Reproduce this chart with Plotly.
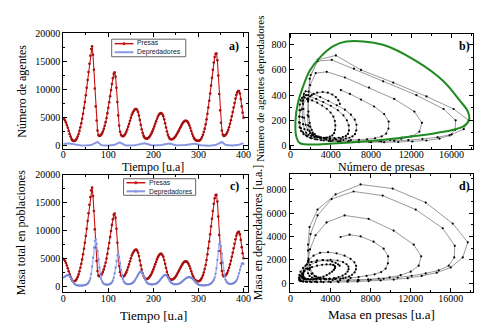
import plotly.graph_objects as go

W, H = 499, 331

# ---------------- data ----------------
t = list(range(0, 401, 2))

# prey (number of agents == prey mass), panels a, c and x of b, d
presas = [
    4900, 4750, 4500, 4150, 3700, 3200, 2650, 2100, 1650, 1250,
    1000, 880, 850, 900, 1050, 1300, 1650, 2100, 2650, 3300,
    4000, 4800, 5700, 6700, 7800, 9000, 10300, 11700, 13100, 14600,
    16000, 17200, 17700, 16200, 13500, 10200, 7000, 4500, 2700, 1900,
    1750, 1800, 1950, 2200, 2550, 3000, 3550, 4200, 4950, 5800,
    6750, 7750, 8800, 9900, 11000, 12000, 12800, 13050, 12300, 10300,
    7800, 5400, 3600, 2500, 1950, 1750, 1700, 1750, 1900, 2150,
    2500, 2900, 3400, 3900, 4450, 5000, 5500, 5850, 6150, 6400,
    6530, 6550, 6380, 6000, 5400, 4600, 3750, 2950, 2300, 1800,
    1500, 1330, 1270, 1280, 1350, 1500, 1700, 1950, 2250, 2600,
    3000, 3450, 3900, 4350, 4800, 5200, 5500, 5700, 5800, 5780,
    5600, 5250, 4700, 4000, 3250, 2550, 1950, 1550, 1300, 1180,
    1150, 1170, 1250, 1380, 1550, 1780, 2050, 2350, 2650, 2980,
    3300, 3620, 3900, 4150, 4330, 4430, 4450, 4400, 4250, 3980,
    3600, 3150, 2650, 2150, 1750, 1400, 1150, 1000, 920, 890,
    880, 920, 1030, 1250, 1550, 1950, 2450, 3050, 3800, 4700,
    5700, 6800, 8000, 9300, 10700, 12100, 13500, 14800, 15800, 16350,
    16400, 15200, 12500, 9200, 6300, 4100, 2700, 2000, 1750, 1780,
    1900, 2100, 2400, 2800, 3300, 3900, 4550, 5250, 6000, 6800,
    7600, 8400, 9050, 9500, 9730, 9750, 9300, 8300, 7000, 5900,
    5000,
]

# predator count (panel a blue, y of panel b)
depredadores_n = [
    330, 360, 385, 405, 420, 425, 420, 400, 370, 330,
    280, 230, 185, 145, 115, 90, 72, 58, 48, 40,
    35, 32, 30, 30, 31, 33, 37, 43, 52, 66,
    88, 130, 200, 290, 390, 500, 600, 715, 680, 530,
    360, 230, 150, 100, 72, 56, 47, 41, 37, 35,
    34, 35, 38, 44, 54, 72, 110, 180, 270, 370,
    460, 540, 585, 575, 480, 350, 240, 160, 115, 88,
    72, 62, 56, 53, 52, 53, 56, 62, 72, 90,
    120, 165, 205, 245, 285, 320, 355, 385, 410, 428,
    430, 410, 360, 290, 220, 165, 125, 98, 82, 72,
    66, 62, 60, 60, 62, 67, 76, 92, 120, 160,
    200, 240, 280, 315, 345, 370, 390, 400, 390, 350,
    290, 225, 170, 130, 102, 85, 75, 68, 64, 62,
    62, 64, 70, 80, 98, 125, 160, 195, 230, 262,
    292, 318, 340, 358, 372, 380, 378, 360, 325, 280,
    230, 180, 138, 105, 80, 62, 50, 42, 36, 32,
    29, 27, 26, 26, 28, 32, 40, 55, 80, 125,
    200, 290, 400, 510, 610, 680, 670, 560, 400, 270,
    180, 125, 90, 70, 58, 50, 46, 44, 44, 46,
    50, 58, 72, 95, 135, 190, 250, 310, 365, 410,
    440,
]

# predator mass (panel c blue, y of panel d)
depredadores_m = [
    1500, 1620, 1740, 1850, 1940, 1980, 1950, 1820, 1600, 1300,
    980, 700, 480, 320, 210, 150, 115, 95, 85, 82,
    85, 95, 110, 135, 175, 230, 310, 430, 620, 900,
    1350, 2200, 3500, 5100, 6900, 8100, 8450, 7600, 6300, 4800,
    3300, 2100, 1300, 850, 580, 420, 330, 280, 260, 260,
    280, 320, 390, 500, 680, 980, 1500, 2300, 3300, 4500,
    5500, 5800, 5200, 4100, 2900, 1900, 1250, 850, 620, 480,
    400, 360, 340, 340, 360, 400, 470, 570, 720, 920,
    1180, 1480, 1780, 2080, 2350, 2550, 2650, 2600, 2350, 1950,
    1500, 1100, 800, 600, 470, 390, 340, 310, 300, 300,
    310, 330, 370, 430, 520, 640, 800, 990, 1200, 1420,
    1620, 1800, 1940, 2000, 1960, 1800, 1550, 1250, 950, 720,
    560, 450, 380, 340, 320, 320, 330, 360, 410, 480,
    570, 690, 830, 980, 1130, 1270, 1390, 1490, 1560, 1600,
    1600, 1570, 1500, 1380, 1220, 1030, 830, 640, 480, 360,
    270, 210, 170, 145, 130, 125, 125, 130, 140, 160,
    190, 230, 290, 370, 480, 630, 830, 1100, 1500, 2200,
    3200, 4700, 6300, 7500, 7850, 7200, 5800, 4200, 2800, 1800,
    1150, 800, 600, 480, 420, 390, 390, 410, 450, 520,
    620, 760, 950, 1250, 1700, 2300, 2950, 3550, 4000, 4150,
    3950,
]

# green reference orbit in panel b
orbita_x = [895, 1890, 4205, 7525, 10835, 14480, 17130, 17725, 17625, 16800,
            15140, 12495, 9175, 5535, 4205, 2883, 1890, 1223, 726, 497, 567, 895]
orbita_y = [21, 8, 16, 34, 60, 99, 151, 202, 268, 358,
            514, 670, 800, 826, 787, 696, 592, 463, 333, 202, 73, 21]

tick_t = [0, 100, 200, 300, 400]
tick_p = [0, 5000, 10000, 15000, 20000]
tick_px = [0, 4000, 8000, 12000, 16000]
tick_n = [0, 200, 400, 600, 800]
tick_m = [0, 2000, 4000, 6000, 8000]

legend_names = ["Presas", "Depredadores"]

# ---------------- helpers ----------------
def px(x):
    return x / W

def py(y):
    return 1 - y / H

SERIF = "Liberation Serif"
SANS = "Liberation Sans"
RED = "#c81414"
BLUE = "#8797e2"

fig = go.Figure()

# panel a
fig.add_trace(go.Scatter(x=t, y=presas, mode="lines+markers", name=legend_names[0],
                         line=dict(color=RED, width=1.1),
                         marker=dict(color="#a80f0f", size=2.6),
                         showlegend=False, xaxis="x", yaxis="y"))
fig.add_trace(go.Scatter(x=t, y=depredadores_n, mode="lines", name=legend_names[1],
                         line=dict(color=BLUE, width=2),
                         showlegend=False, xaxis="x", yaxis="y"))
# panel b
fig.add_trace(go.Scatter(x=presas, y=depredadores_n, mode="lines+markers",
                         line=dict(color="#9a9a9a", width=1),
                         marker=dict(color="black", size=2.2),
                         showlegend=False, xaxis="x2", yaxis="y2"))
fig.add_trace(go.Scatter(x=orbita_x, y=orbita_y, mode="lines",
                         line=dict(color="#1f8a1f", width=2, shape="spline", smoothing=1.0),
                         showlegend=False, xaxis="x2", yaxis="y2"))
# panel c
fig.add_trace(go.Scatter(x=t, y=presas, mode="lines+markers", name=legend_names[0],
                         line=dict(color=RED, width=1.1),
                         marker=dict(color="#a80f0f", size=2.6),
                         showlegend=False, xaxis="x3", yaxis="y3"))
fig.add_trace(go.Scatter(x=t, y=depredadores_m, mode="lines+markers", name=legend_names[1],
                         line=dict(color="#b0baee", width=1.5),
                         marker=dict(color="#7888d8", size=2.2),
                         showlegend=False, xaxis="x3", yaxis="y3"))
# panel d
fig.add_trace(go.Scatter(x=presas, y=depredadores_m, mode="lines+markers",
                         line=dict(color="#9a9a9a", width=1),
                         marker=dict(color="black", size=2.2),
                         showlegend=False, xaxis="x4", yaxis="y4"))

def ax(domain, rng, tickvals, anchor, minor_dtick, standoff=0):
    return dict(domain=domain, range=rng, tickvals=tickvals, anchor=anchor,
                tickformat="d", ticklabelstandoff=standoff,
                showline=True, linecolor="black", linewidth=1, mirror="allticks",
                ticks="inside", ticklen=4, tickcolor="black", showgrid=False, zeroline=False,
                tickfont=dict(family=SERIF, size=10, color="black"),
                minor=dict(ticks="inside", ticklen=2, tickcolor="black", dtick=minor_dtick),
                fixedrange=True)

xa = [px(61), px(248)]
xb = [px(290), px(476)]
ytop = [py(147), py(28)]
ybot = [py(293), py(173)]

shapes = []
ann = []

def text(x, y, s, size, angle=0, family=SERIF, anchor="center", color="black"):
    ann.append(dict(x=px(x), y=py(y), xref="paper", yref="paper", text=s,
                    showarrow=False, textangle=angle, xanchor=anchor, yanchor="middle",
                    align="left", borderpad=0,
                    font=dict(family=family, size=size, color=color)))

def legend_box(x0, y0, x1, y1, red_marker_blue):
    shapes.append(dict(type="rect", xref="paper", yref="paper",
                       x0=px(x0), x1=px(x1), y0=py(y1), y1=py(y0),
                       line=dict(color="#666", width=1), fillcolor="white"))
    cols = [RED, BLUE]
    yc = (y0 + y1) / 2
    rows = [yc - 4.4, yc + 4.4]
    for i, yy in enumerate(rows):
        shapes.append(dict(type="line", xref="paper", yref="paper",
                           x0=px(x0 + 3), x1=px(x0 + 22), y0=py(yy), y1=py(yy),
                           line=dict(color=cols[i], width=1.5 if i == 0 else 2)))
        if i == 0 or red_marker_blue:
            shapes.append(dict(type="circle", xref="paper", yref="paper",
                               x0=px(x0 + 11.2), x1=px(x0 + 13.8), y0=py(yy + 1.3), y1=py(yy - 1.3),
                               line=dict(color=cols[i], width=0.5), fillcolor=cols[i]))
    text(x0 + 25, yc, "<br>".join(legend_names), 6.8, family=SANS, anchor="left", color="#222")

legend_box(110, 34, 185, 52, False)
legend_box(122, 177, 195, 194, True)

fig.update_layout(
    width=W, height=H, margin=dict(l=0, r=0, t=0, b=0),
    paper_bgcolor="white", plot_bgcolor="white", showlegend=False,
    xaxis=ax(xa, [0, 410], tick_t, "y", 50, -4),
    yaxis=ax(ytop, [-650, 20000], tick_p, "x", 2500),
    xaxis2=ax(xb, [-100, 18150], tick_px, "y2", 2000, -4),
    yaxis2=ax([py(147), py(29)], [-31, 883], tick_n, "x2", 100),
    xaxis3=ax(xa, [0, 410], tick_t, "y3", 50, -3),
    yaxis3=ax(ybot, [-1050, 20000], tick_p, "x3", 2500),
    xaxis4=ax(xb, [-100, 18250], tick_px, "y4", 2000, -3),
    yaxis4=ax([py(293), py(172)], [-750, 9360], tick_m, "x4", 1000),
)

text(19, 87, "Número de agentes", 12, -90, anchor="center")
text(152, 165, "Tiempo [u.a]", 12, anchor="center")
text(260, 85, "Número de agentes depredadores", 11, -90, anchor="center")
text(383, 165, "Número de presas", 12, anchor="center")
text(19, 232, "Masa total en poblaciones", 12, -90, anchor="center")
text(152, 317, "Tiempo [u.a]", 13, anchor="center")
text(259, 232, "Masa en depredadores [u.a.]", 12, -90, anchor="center")
text(383, 316, "Masa en presas [u.a]", 13, anchor="center")
text(234, 41, "<b>a)</b>", 12, anchor="center")
text(467, 41, "<b>b)</b>", 12, anchor="center")
text(234, 184, "<b>c)</b>", 12, anchor="center")
text(467, 184, "<b>d)</b>", 12, anchor="center")

fig.update_layout(annotations=ann, shapes=shapes)

fig.write_html("out.html")
